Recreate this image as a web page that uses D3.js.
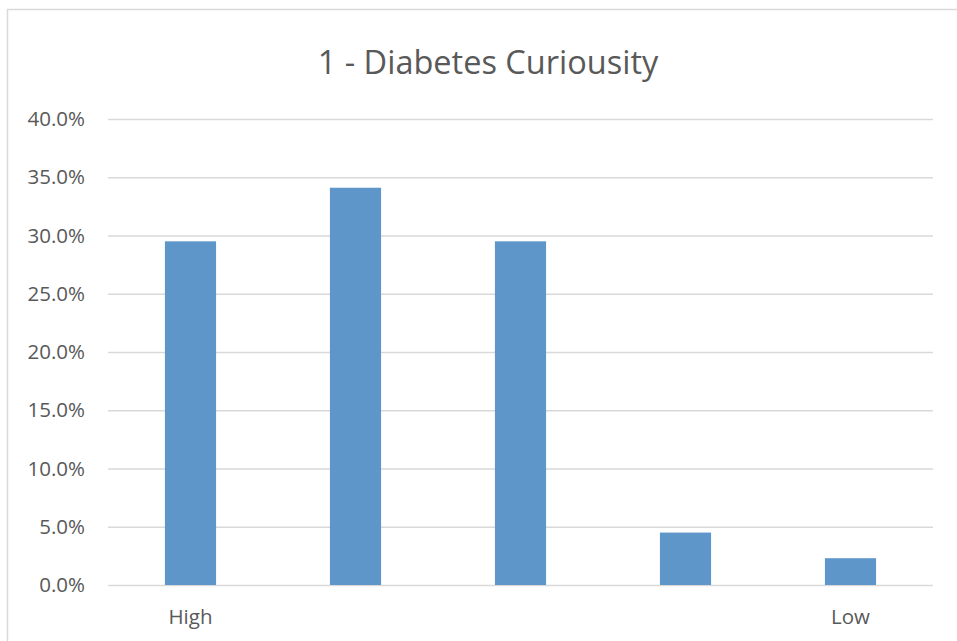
<!DOCTYPE html>
<html>
<head>
<meta charset="utf-8">
<script src="https://cdn.jsdelivr.net/npm/d3@7"></script>
<style>
  html, body { margin: 0; padding: 0; background: #fff; }
  svg { display: block; }
  text { font-family: "Open Sans", "Noto Sans", sans-serif; fill: #595959; }
</style>
</head>
<body>
<svg id="chart" width="957" height="641"></svg>
<script>
// Survey responses, share of respondents per level
const categories = ["c1", "c2", "c3", "c4", "c5"];
const categoryLabels = ["High", "", "", "", "Low"];
const shares = [0.295, 0.341, 0.295, 0.045, 0.023];
const yTicks = [0, 0.05, 0.10, 0.15, 0.20, 0.25, 0.30, 0.35, 0.40];
const chartTitle = "1 - Diabetes Curiousity";

const svg = d3.select("#chart");
const margin = { left: 108, right: 24, top: 119, bottom: 56 };
const W = 957, H = 641;

// Chart frame
svg.append("rect")
  .attr("x", 7.5).attr("y", 9.5)
  .attr("width", 960).attr("height", 640)
  .attr("fill", "#fff")
  .attr("stroke", "#d9d9d9")
  .attr("stroke-width", 1.5);

const x = d3.scaleBand()
  .domain(categories)
  .range([margin.left, W - margin.right])
  .paddingInner(0.69)
  .paddingOuter(0.345);

const y = d3.scaleLinear()
  .domain([0, 0.40])
  .range([H - margin.bottom, margin.top]);

// Horizontal gridlines
const yAxis = d3.axisLeft(y)
  .tickValues(yTicks)
  .tickFormat(d3.format(".1%"))
  .tickSize(-(W - margin.right - margin.left))
  .tickPadding(23);

const gy = svg.append("g")
  .attr("transform", `translate(${margin.left},0)`)
  .call(yAxis);
gy.select(".domain").remove();
gy.selectAll(".tick line").attr("stroke", "#d9d9d9").attr("stroke-width", 1.3);
gy.selectAll(".tick text")
  .attr("fill", "#595959")
  .style("font-size", "20.5px");

// Bars
svg.append("g")
  .selectAll("rect")
  .data(shares)
  .join("rect")
  .attr("x", (d, i) => x(categories[i]))
  .attr("y", d => y(d))
  .attr("width", x.bandwidth())
  .attr("height", d => y(0) - y(d))
  .attr("fill", "#5e96ca");

// Category labels
const xAxis = d3.axisBottom(x)
  .tickFormat((d, i) => categoryLabels[i])
  .tickSize(0)
  .tickPadding(24);
const gx = svg.append("g")
  .attr("transform", `translate(0,${H - margin.bottom})`)
  .call(xAxis);
gx.select(".domain").remove();
gx.selectAll(".tick text")
  .attr("fill", "#595959")
  .style("font-size", "20.5px");

// Title
svg.append("text")
  .attr("x", 488)
  .attr("y", 74)
  .attr("text-anchor", "middle")
  .style("font-size", "32.5px")
  .text(chartTitle);
</script>
</body>
</html>
